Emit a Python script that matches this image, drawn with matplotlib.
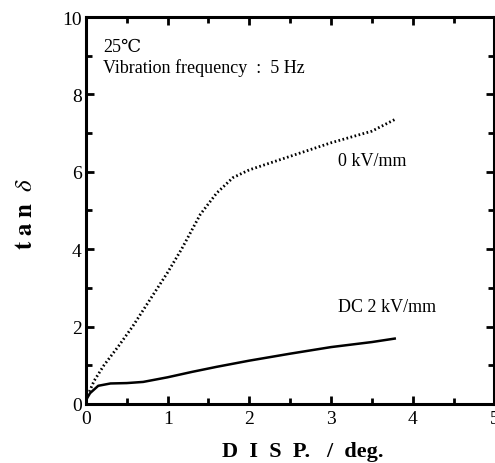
"""tan delta vs. displacement, 0 kV/mm and DC 2 kV/mm."""
import matplotlib
matplotlib.use('Agg')
import matplotlib.pyplot as plt
from matplotlib.ticker import MultipleLocator

plt.rcParams['font.family'] = ['Liberation Serif', 'DejaVu Serif']
plt.rcParams['mathtext.fontset'] = 'stix'

# Data
disp_0kv = [0.0, 0.1, 0.22, 0.4, 0.57, 0.8, 1.0, 1.17, 1.4, 1.6, 1.8, 2.0, 2.5, 3.0, 3.5, 3.78]
tan_0kv = [0.12, 0.6, 1.0, 1.5, 2.0, 2.75, 3.4, 4.0, 4.9, 5.45, 5.85, 6.05, 6.4, 6.75, 7.05, 7.35]

disp_dc2 = [0.0, 0.05, 0.15, 0.3, 0.5, 0.7, 1.0, 1.3, 1.6, 2.0, 2.5, 3.0, 3.5, 3.78]
tan_dc2 = [0.1, 0.28, 0.47, 0.53, 0.54, 0.57, 0.69, 0.83, 0.96, 1.12, 1.3, 1.47, 1.6, 1.69]

fig = plt.figure(figsize=(4.95, 4.64), dpi=100)
ax = fig.add_axes([0.1737, 0.1272, 0.825, 0.834])

ax.plot(disp_0kv, tan_0kv, color='black', linestyle=(0, (0.6, 0.9)), linewidth=2.0)
ax.plot(disp_dc2, tan_dc2, color='black', linestyle='-', linewidth=1.8)

ax.set_xlim(0, 5)
ax.set_ylim(0, 10)
ax.xaxis.set_major_locator(MultipleLocator(1))
ax.xaxis.set_minor_locator(MultipleLocator(0.5))
ax.yaxis.set_major_locator(MultipleLocator(2))
ax.yaxis.set_minor_locator(MultipleLocator(1))
ax.tick_params(which='both', direction='in', top=True, right=True, width=2)
ax.tick_params(which='major', length=6, labelsize=14, pad=3)
ax.tick_params(axis='x', which='major', pad=4)
ax.tick_params(which='minor', length=4)
for s in ax.spines.values():
    s.set_linewidth(2.2)

ax.set_xlabel('D  I  S  P.   /  deg.', fontsize=16, fontweight='bold')
ax.xaxis.set_label_coords(0.531, -0.096)
ax.set_ylabel(r'$\mathbf{t\ a\ n}\ \ \delta$', fontsize=18)
ax.yaxis.set_label_coords(-0.12, 0.494)

ax.text(0.042, 0.912, '25℃', transform=ax.transAxes, fontsize=13, va='baseline',
        family=['Liberation Serif', 'DejaVu Serif'])
ax.text(0.042, 0.858, 'Vibration frequency  :  5 Hz', transform=ax.transAxes,
        fontsize=13, va='baseline')
ax.text(3.08, 6.28, '0 kV/mm', fontsize=13, va='center')
ax.text(3.08, 2.51, 'DC 2 kV/mm', fontsize=13, va='center')

fig.savefig('out.png', dpi=100)
